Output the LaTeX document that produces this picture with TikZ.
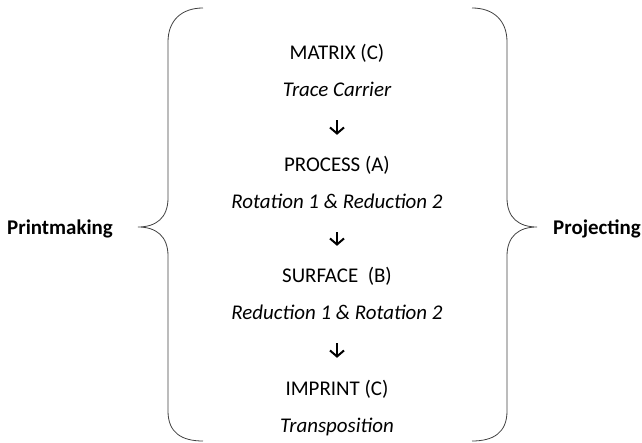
\documentclass[tikz,border=0pt]{standalone}
\usepackage{fontspec}
\setmainfont{Carlito}
\usetikzlibrary{arrows.meta}

\begin{document}
\begin{tikzpicture}[x=1bp,y=-1bp]
    \tikzstyle{stage}=[font=\fontsize{21}{25}\selectfont,inner sep=0pt,anchor=base,text height=16bp,text depth=5bp]
    \tikzstyle{note}=[stage,font=\fontsize{21}{25}\selectfont\itshape]
    \tikzstyle{side}=[font=\fontsize{21}{25}\selectfont\bfseries,inner sep=0pt]
    \tikzstyle{flow}=[line width=2bp,-{Straight Barb[length=6bp,width=14bp]},shorten <=18bp,shorten >=21bp]
    \tikzstyle{brace}=[draw=black!75,line width=0.8bp]
    \useasboundingbox (0,0) rectangle (642,443);

    \foreach \name/\y/\txt in {matrix/60/MATRIX (C), process/172/PROCESS (A), surface/283/SURFACE\ \ (B), imprint/395/IMPRINT (C)}
        \node[stage] (\name) at (337,\y) {\txt};

    \foreach \name/\y/\txt in {trace/97/Trace Carrier, rotred/209/Rotation 1 \& Reduction 2, redrot/320/Reduction 1 \& Rotation 2, transp/432/Transposition}
        \node[note] (\name) at (337,\y) {\txt};

    \foreach \from/\to in {trace/process, rotred/surface, redrot/imprint}
        \draw[flow] (\from) -- (\to);

    \node[side,anchor=base west] (print) at (7,235) {Printmaking};
    \node[side,anchor=base east] (project) at (641,235) {Projecting};

    % left brace
    \draw[brace] (203,8) .. controls (182,8) and (168,20) .. (168,42) -- (168,198)
        .. controls (168,218) and (156,227) .. (138,227)
        .. controls (156,227) and (168,236) .. (168,256) -- (168,411)
        .. controls (168,433) and (182,441) .. (203,441);
    % right brace
    \draw[brace] (472,8) .. controls (493,8) and (507,20) .. (507,42) -- (507,198)
        .. controls (507,218) and (519,227) .. (537,227)
        .. controls (519,227) and (507,236) .. (507,256) -- (507,411)
        .. controls (507,433) and (493,441) .. (472,441);
\end{tikzpicture}
\end{document}
